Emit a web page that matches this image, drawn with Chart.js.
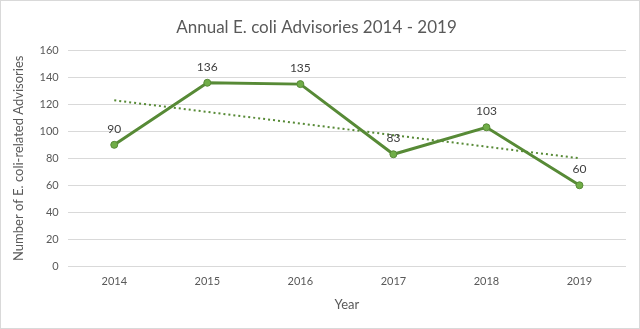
<!DOCTYPE html>
<html>
<head>
<meta charset="utf-8">
<script src="https://cdn.jsdelivr.net/npm/chart.js@4"></script>
<style>
  html, body { margin: 0; padding: 0; background: #fff; }
  #wrap { position: relative; width: 638px; height: 327px; border: 1px solid #d9d9d9; }
</style>
</head>
<body>
<div id="wrap"><canvas id="c" width="638" height="327"></canvas></div>
<script>
// Annual advisory counts
const years = ['2014', '2015', '2016', '2017', '2018', '2019'];
const advisories = [90, 136, 135, 83, 103, 60];
// Linear trend endpoints (first and last year)
const trendEnds = [123, null, null, null, null, 80];

const textColor = '#595959';
const fontFamily = 'Lato, "Open Sans", sans-serif';

// Value labels above each point of the main series
const valueLabels = {
  id: 'valueLabels',
  afterDatasetsDraw(chart) {
    const ctx = chart.ctx;
    const meta = chart.getDatasetMeta(0);
    ctx.save();
    ctx.font = '12px ' + fontFamily;
    ctx.fillStyle = '#404040';
    ctx.textAlign = 'center';
    ctx.textBaseline = 'bottom';
    meta.data.forEach((pt, i) => {
      ctx.fillText(String(advisories[i]), pt.x, pt.y - 10);
    });
    ctx.restore();
  }
};

new Chart(document.getElementById('c'), {
  type: 'line',
  data: {
    labels: years,
    datasets: [
      {
        data: advisories,
        borderColor: '#578a36',
        borderWidth: 3,
        pointRadius: 3.5,
        pointBackgroundColor: '#70ad47',
        pointBorderColor: '#578a36',
        pointBorderWidth: 1,
        tension: 0
      },
      {
        data: trendEnds,
        spanGaps: true,
        borderColor: '#578a36',
        borderWidth: 2,
        borderDash: [2, 3],
        pointRadius: 0,
        tension: 0
      }
    ]
  },
  options: {
    responsive: false,
    animation: false,
    layout: { padding: { top: 16, right: 13, bottom: 15, left: 6 } },
    plugins: {
      legend: { display: false },
      tooltip: { enabled: false },
      title: {
        display: true,
        text: 'Annual E. coli Advisories 2014 - 2019',
        color: textColor,
        font: { family: fontFamily, size: 17, weight: 'normal' },
        padding: { top: 0, bottom: 13 }
      }
    },
    scales: {
      x: {
        offset: true,
        grid: { display: false, drawTicks: false },
        border: { display: false },
        ticks: { color: textColor, font: { family: fontFamily, size: 11 }, padding: 9 },
        title: {
          display: true,
          text: 'Year',
          color: textColor,
          font: { family: fontFamily, size: 13 },
          padding: { top: 0, bottom: 0 }
        }
      },
      y: {
        min: 0,
        max: 160,
        ticks: { stepSize: 20, color: textColor, font: { family: fontFamily, size: 11 }, padding: 9 },
        grid: { color: '#d9d9d9', drawTicks: false },
        border: { display: false },
        title: {
          display: true,
          text: 'Number of E. coli-related Advisories',
          color: textColor,
          font: { family: fontFamily, size: 13 },
          padding: { bottom: 4 }
        }
      }
    }
  },
  plugins: [valueLabels]
});
</script>
</body>
</html>
